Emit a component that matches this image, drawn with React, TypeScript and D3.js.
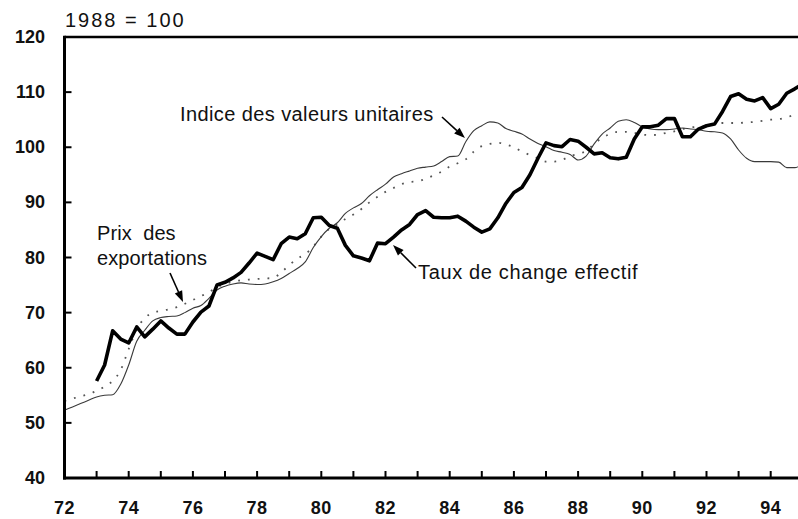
import React from "react";
import * as d3 from "d3";

const yTicks = [40, 50, 60, 70, 80, 90, 100, 110, 120];
const xTickLabels = ["72", "74", "76", "78", "80", "82", "84", "86", "88", "90", "92", "94"];
const xMinorYears = d3.range(72, 95);

// Taux de change effectif, quarterly from 1973 Q1
const tauxStart = 73;
const tauxValues = [
  57.6, 60.5, 66.7, 65.2, 64.5, 67.4, 65.6, 67.0, 68.5, 67.2, 66.1, 66.1,
  68.3, 70.1, 71.2, 75.0, 75.5, 76.3, 77.3, 79.0, 80.8, 80.2, 79.6, 82.5,
  83.7, 83.4, 84.3, 87.2, 87.3, 85.8, 85.3, 82.2, 80.3, 79.9, 79.4, 82.6,
  82.5, 83.7, 85.0, 86.0, 87.8, 88.5, 87.3, 87.2, 87.2, 87.5, 86.6, 85.5,
  84.6, 85.2, 87.2, 89.8, 91.8, 92.7, 95.0, 98.0, 100.8, 100.3, 100.1, 101.4,
  101.1, 100.0, 98.8, 99.0, 98.1, 97.9, 98.2, 101.5, 103.7, 103.7, 104.0, 105.2,
  105.2, 101.9, 101.9, 103.3, 103.9, 104.2, 106.5, 109.2, 109.7, 108.7, 108.4, 109.0,
  107.0, 107.8, 109.8, 110.6, 111.5,
];

// Indice des valeurs unitaires, quarterly from 1972 Q1
const indiceStart = 72;
const indiceValues = [
  52.3, 52.9, 53.5, 54.1, 54.7, 55.0, 55.1, 57.0, 60.5, 64.8, 66.8, 68.5,
  69.1, 69.3, 69.4, 70.0, 70.8, 71.3, 72.6, 74.1, 74.8, 75.2, 75.4, 75.2,
  75.1, 75.2, 75.6, 76.2, 77.1, 78.0, 79.2, 81.8, 83.8, 85.3, 86.3, 88.0,
  89.0, 89.8, 91.2, 92.3, 93.3, 94.6, 95.2, 95.7, 96.2, 96.4, 96.6, 97.4,
  98.3, 98.4, 101.0, 103.0, 103.9, 104.6, 104.4, 103.4, 102.9, 102.4, 101.5, 100.7,
  100.1, 99.4, 99.1, 98.7, 97.7, 98.4, 100.6, 102.4, 103.5, 104.7, 105.0, 104.5,
  103.7, 103.3, 103.2, 103.2, 103.3, 103.5, 103.3, 103.2, 102.9, 102.8, 102.6, 101.5,
  99.5, 98.0, 97.4, 97.4, 97.4, 97.3, 96.3, 96.3, 97.0,
];

// Prix des exportations, quarterly from 1972 Q1
const prixStart = 72;
const prixValues = [
  54.0, 54.4, 54.8, 55.2, 55.8, 56.6, 57.6, 59.6, 63.4, 67.0, 69.0, 70.0,
  70.3, 70.6, 71.0, 71.6, 72.3, 73.0, 73.7, 74.6, 75.2, 75.6, 75.9, 76.0,
  76.1, 76.2, 76.3, 77.3, 78.6, 79.8, 80.6, 82.0, 83.8, 85.2, 86.0, 87.0,
  87.8, 88.8, 90.0, 91.0, 91.9, 92.6, 93.3, 93.7, 93.8, 94.3, 94.9, 95.6,
  96.5, 97.1, 97.8, 99.2, 100.2, 100.6, 100.8, 100.5, 100.0, 99.2, 98.6, 98.0,
  97.4, 97.4, 97.7, 98.4, 98.8, 99.3, 100.6, 101.7, 102.4, 102.8, 102.8, 102.6,
  102.3, 102.2, 102.3, 102.6, 102.9, 103.3, 103.6, 103.7, 103.8, 104.2, 104.4, 104.4,
  104.4, 104.5, 104.6, 104.8, 105.0, 105.1, 105.4, 106.0, 106.5,
];

const W = 798;
const H = 519;

const x = d3.scaleLinear().domain([72, 94]).range([64.5, 770.7]);
const y = d3.scaleLinear().domain([40, 120]).range([478, 37]);

function toPoints(start: number, vals: number[]) {
  return vals.map((v, i) => [start + i * 0.25, v] as [number, number]);
}

const lineLin = d3
  .line<[number, number]>()
  .x((d) => x(d[0]))
  .y((d) => y(d[1]))
  .curve(d3.curveLinear);

const lineSmooth = d3
  .line<[number, number]>()
  .x((d) => x(d[0]))
  .y((d) => y(d[1]))
  .curve(d3.curveMonotoneX);

const FONT = "'Liberation Sans', Arial, Helvetica, sans-serif";

function Arrow({ x1, y1, x2, y2 }: { x1: number; y1: number; x2: number; y2: number }) {
  const ang = Math.atan2(y2 - y1, x2 - x1);
  const len = 11;
  const wid = 4;
  const bx = x2 - len * Math.cos(ang);
  const by = y2 - len * Math.sin(ang);
  const px = -Math.sin(ang) * wid;
  const py = Math.cos(ang) * wid;
  return (
    <g>
      <line x1={x1} y1={y1} x2={bx} y2={by} stroke="#000" strokeWidth={1.6} />
      <path d={`M${x2},${y2} L${bx + px},${by + py} L${bx - px},${by - py} Z`} fill="#000" />
    </g>
  );
}

export default function App() {
  const xEnd = W;
  return (
    <svg
      width={W}
      height={H}
      style={{ position: "absolute", left: 0, top: 0, background: "#fff" }}
      fontFamily={FONT}
    >
      <rect x={0} y={0} width={W} height={H} fill="#fff" />
      {/* series */}
      <path
        d={lineSmooth(toPoints(prixStart, prixValues)) || ""}
        fill="none"
        stroke="#555"
        strokeWidth={1.8}
        strokeDasharray="1.8 8"
      />
      <path
        d={lineSmooth(toPoints(indiceStart, indiceValues)) || ""}
        fill="none"
        stroke="#3a3a3a"
        strokeWidth={1.1}
      />
      <path
        d={lineLin(toPoints(tauxStart, tauxValues)) || ""}
        fill="none"
        stroke="#000"
        strokeWidth={3.6}
        strokeLinejoin="round"
      />

      {/* axes */}
      <line x1={x(72)} y1={y(120)} x2={xEnd} y2={y(120)} stroke="#000" strokeWidth={2.6} />
      <line x1={x(72)} y1={y(120) - 1.3} x2={x(72)} y2={y(40) + 1.5} stroke="#000" strokeWidth={3} />
      <line x1={x(72) - 1.5} y1={y(40)} x2={xEnd} y2={y(40)} stroke="#000" strokeWidth={3} />
      {yTicks.slice(1, -1).map((t) => (
        <line key={"yt" + t} x1={x(72)} x2={x(72) + 7} y1={y(t)} y2={y(t)} stroke="#000" strokeWidth={2} />
      ))}
      {xMinorYears.slice(1).map((t) => (
        <line key={"xt" + t} x1={x(t)} x2={x(t)} y1={y(40)} y2={y(40) - 7} stroke="#000" strokeWidth={2} />
      ))}
      {yTicks.map((t) => (
        <text
          key={"yl" + t}
          x={45}
          y={y(t)}
          textAnchor="end"
          dominantBaseline="central"
          fontSize={18}
          fontWeight="bold"
          fill="#111"
        >
          {t}
        </text>
      ))}
      {xTickLabels.map((t) => (
        <text
          key={"xl" + t}
          x={x(+t)}
          y={508}
          textAnchor="middle"
          dominantBaseline="central"
          fontSize={18}
          fontWeight="bold"
          fill="#111"
          letterSpacing={0.5}
        >
          {t}
        </text>
      ))}
      <text x={65} y={27} fontSize={20} fill="#111" letterSpacing={2}>
        1988 = 100
      </text>

      {/* annotations */}
      <text x={180} y={121} fontSize={20} fill="#111" letterSpacing={0.4}>
        Indice des valeurs unitaires
      </text>
      <Arrow x1={442} y1={117} x2={465} y2={138} />

      <text x={97} y={240} fontSize={20} fill="#111" letterSpacing={0.1} style={{ whiteSpace: "pre" }}>
        {"Prix  des"}
      </text>
      <text x={97} y={265} fontSize={20} fill="#111" letterSpacing={0.1}>
        exportations
      </text>
      <Arrow x1={170} y1={273} x2={183} y2={302} />

      <text x={418} y={279} fontSize={20} fill="#111" letterSpacing={0.65}>
        Taux de change effectif
      </text>
      <Arrow x1={416} y1={268} x2={393} y2={245} />
    </svg>
  );
}
